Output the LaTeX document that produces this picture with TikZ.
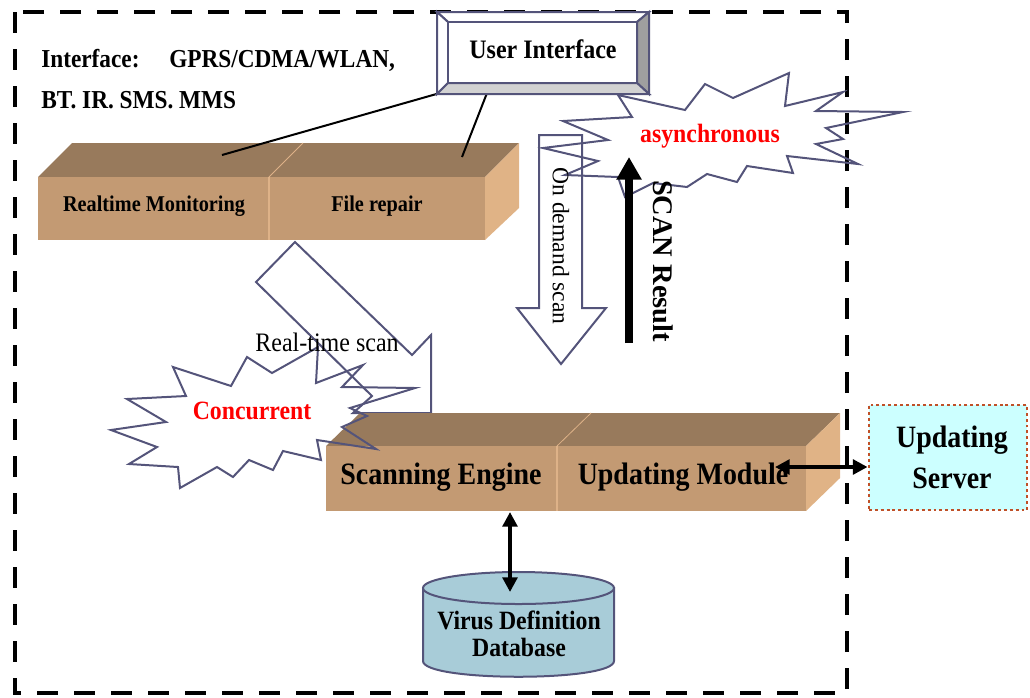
\documentclass[tikz,border=0pt]{standalone}
\usepackage{fontspec}
\setmainfont{Liberation Serif}
\newfontfamily\narrowserif[FakeStretch=0.9]{Liberation Serif}
\usetikzlibrary{arrows.meta}
\definecolor{boxtop}{RGB}{152,122,92}
\definecolor{boxfront}{RGB}{195,154,115}
\definecolor{boxside}{RGB}{224,179,134}
\definecolor{boxseam}{RGB}{222,178,136}
\definecolor{slate}{RGB}{84,84,122}
\definecolor{dbfill}{RGB}{168,204,216}
\definecolor{srvfill}{RGB}{204,255,255}
\definecolor{srvline}{RGB}{192,80,40}
\tikzset{
    frame/.style = {draw=black, line width=3.4pt, dash pattern=on 15.75pt off 12pt},
    topface/.style = {fill=boxtop},
    frontface/.style = {fill=boxfront},
    sideface/.style = {fill=boxside},
    seam/.style = {draw=boxseam, line width=1.5pt},
    bevel/.style = {draw=slate, line width=1.5pt, line join=miter},
    outl/.style = {draw=slate, line width=1.5pt, line join=miter}, % arrows and stars
    iftxt/.style = {font=\narrowserif\bfseries\fontsize{19.4}{23}\selectfont, text=black, anchor=base west},
    uitxt/.style = {font=\narrowserif\bfseries\fontsize{20}{24}\selectfont, text=black},
    boxtxt/.style = {font=\narrowserif\bfseries\fontsize{16.9}{20}\selectfont, text=black},
    bigtxt/.style = {font=\narrowserif\bfseries\fontsize{23.3}{30.75}\selectfont, text=black, align=center},
    redtxt/.style = {font=\narrowserif\bfseries\fontsize{19.8}{23}\selectfont, text=red},
    plaintxt/.style = {font=\narrowserif\fontsize{20}{23}\selectfont, text=black},
    rottxt/.style = {font=\fontsize{17.7}{21}\selectfont, text=black, rotate=-90},
    rotbold/.style = {font=\bfseries\fontsize{21.3}{25}\selectfont, text=black, rotate=-90},
    dbtxt/.style = {font=\narrowserif\bfseries\fontsize{19.8}{20.25}\selectfont, text=black, align=center},
    srvbox/.style = {draw=srvline, fill=srvfill, line width=2.2pt, dash pattern=on 2.2pt off 2.2pt,
                     minimum width=118.5pt, minimum height=78.75pt},
    edgen/.style = {-, line width=1.5pt, black},
    edgedd/.style = {{Triangle[length=11pt,width=11pt]}-{Triangle[length=11pt,width=11pt]}, line width=3pt, black},
    scanarrow/.style = {-{Triangle[length=17pt,width=18pt]}, line width=6pt, black}
}
\begin{document}
\begin{tikzpicture}[x=0.75pt, y=-0.75pt, inner sep=0pt]
  \useasboundingbox (0,0) rectangle (1030,697);

  % outer frame
  \draw[frame] (15,12) rectangle (847,693);

  % monitoring / repair block
  \fill[topface] (38,177) -- (72,143) -- (519,143) -- (485,177) -- cycle;
  \fill[frontface] (38,177) rectangle (485,240);
  \fill[sideface] (485,177) -- (519,143) -- (519,208) -- (485,240) -- cycle;
  \draw[seam] (269,177) -- (269,240);
  \draw[seam, line width=0.6pt] (269,177) -- (303,143);

  % lines from the user interface
  \coordinate (uil) at (440,93);
  \coordinate (uim) at (487,93);
  \coordinate (rmtop) at (222,155);
  \coordinate (frtop) at (462,157);
  \draw[edgen] (uil) -- (rmtop);
  \draw[edgen] (uim) -- (frtop);

  % user interface button
  \filldraw[bevel, fill=white] (437,12) -- (649,12) -- (637,22) -- (448,22) -- cycle;
  \filldraw[bevel, fill=white] (437,12) -- (448,22) -- (448,83) -- (437,94) -- cycle;
  \filldraw[bevel, fill=gray!75] (649,12) -- (649,94) -- (637,83) -- (637,22) -- cycle;
  \filldraw[bevel, fill=gray!35] (437,94) -- (649,94) -- (637,83) -- (448,83) -- cycle;
  \filldraw[bevel, fill=white] (448,22) rectangle (637,83);
  \node[uitxt] (ui) at (543,49) {User Interface};

  % hollow arrows
  \draw[outl] (539,135) -- (582,135) -- (582,308) -- (606,308) -- (561,364)
              -- (517,308) -- (539,308) -- cycle;
  \draw[outl] (295,242) -- (412,355) -- (431,335) -- (431,413) -- (353,413)
              -- (372,396) -- (256,282) -- cycle;

  % scanning / updating block
  \fill[topface] (326,446) -- (360,413) -- (840,413) -- (806,446) -- cycle;
  \fill[frontface] (326,446) rectangle (806,511);
  \fill[sideface] (806,446) -- (840,413) -- (840,478) -- (806,511) -- cycle;
  \draw[seam] (557,446) -- (557,511);
  \draw[seam, line width=0.6pt] (557,446) -- (591,413);

  % bursts
  \draw[outl] (618,95) -- (685,110) -- (705,84) -- (733,98) -- (789,73) -- (785,106)
              -- (843,92) -- (816,111) -- (903,112) -- (826,128) -- (843,139) -- (816,144)
              -- (858,164) -- (787,156) -- (793,173) -- (747,166) -- (737,182) -- (707,174)
              -- (687,187) -- (653,183) -- (625,197) -- (618,177) -- (565,175) -- (598,161)
              -- (543,148) -- (608,140) -- (563,121) -- (632,117) -- cycle;
  \draw[outl] (247,357) -- (272,373) -- (318,347) -- (316,383) -- (363,365) -- (342,387)
              -- (415,388) -- (350,408) -- (367,416) -- (342,427) -- (376,449) -- (317,440)
              -- (321,460) -- (283,451) -- (273,470) -- (249,460) -- (233,477) -- (217,467)
              -- (180,488) -- (178,467) -- (129,464) -- (157,447) -- (111,430) -- (166,422)
              -- (127,399) -- (186,396) -- (173,367) -- (231,386) -- cycle;

  % texts
  \node[iftxt] (ifa) at (41,67) {Interface:};
  \node[iftxt] (ifb) at (169,67) {GPRS/CDMA/WLAN,};
  \node[iftxt] (ifc) at (41,108) {BT. IR. SMS. MMS};
  \node[boxtxt] (rm) at (154,206) {Realtime Monitoring};
  \node[boxtxt] (fr) at (377,206) {File repair};
  \node[plaintxt] (rts) at (327,342) {Real-time scan};
  \node[redtxt] (conc) at (252,411) {Concurrent};
  \node[redtxt] (async) at (710,136) {asynchronous};
  \node[rottxt] (ods) at (561,246) {On demand scan};
  \node[rotbold] (scr) at (663,261) {SCAN Result};
  \node[bigtxt] (se) at (441,477) {Scanning Engine};
  \node[bigtxt] (um) at (683,477) {Updating Module};

  % scan result arrow
  \coordinate (srb) at (629,343);
  \coordinate (srt) at (629,157);
  \draw[scanarrow] (srb) -- (srt);

  % updating server
  \node[srvbox] (srv) at (948,457.5) {};
  \node[bigtxt] (srvt) at (952,457.5) {Updating\\Server};
  \coordinate (umr) at (775,467);
  \draw[edgedd] (umr) -- (umr -| srv.west);

  % virus database
  \filldraw[outl, fill=dbfill] (423,588) -- (423,661) .. controls (423,682) and (614,682) .. (614,661)
              -- (614,588) -- cycle;
  \filldraw[outl, fill=dbfill] (518.5,588) ellipse [x radius=95.5, y radius=16];
  \node[dbtxt] (db) at (519,634) {Virus Definition\\Database};
  \coordinate (seb) at (510,512);
  \coordinate (dbt) at (510,592);
  \draw[edgedd] (seb) -- (dbt);
\end{tikzpicture}
\end{document}
